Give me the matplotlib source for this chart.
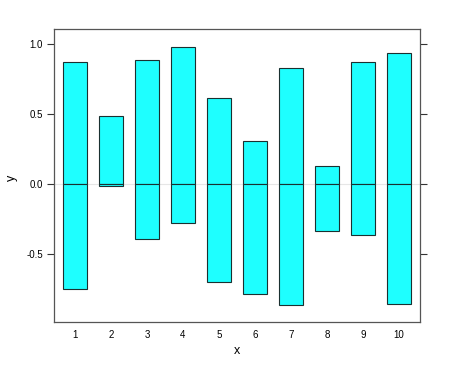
import matplotlib
matplotlib.use("Agg")
import matplotlib.pyplot as plt
import numpy as np

plt.rcParams['font.family'] = ['Liberation Sans', 'DejaVu Sans']

categories = ["1", "2", "3", "4", "5", "6", "7", "8", "9", "10"]
upper = [0.871, 0.486, 0.886, 0.976, 0.614, 0.307, 0.826, 0.126, 0.871, 0.936]
lower = [-0.750, -0.014, -0.393, -0.276, -0.700, -0.786, -0.864, -0.338, -0.364, -0.860]
yticks = [-0.5, 0.0, 0.5, 1.0]
ytick_labels = ["-0.5", "0.0", "0.5", "1.0"]

fig = plt.figure(figsize=(4.5, 3.68), dpi=100)
ax = fig.add_axes([54/450, 1-322/368, (420-54)/450, (322-29)/368])

x = np.arange(1, len(categories)+1)
ax.axhline(0, color='#e6e6e6', lw=0.8, zorder=0)
ax.bar(x, upper, width=2/3, bottom=0, color='#1EFFFF', edgecolor='#1a3030', linewidth=0.8, zorder=2)
ax.bar(x, lower, width=2/3, bottom=0, color='#1EFFFF', edgecolor='#1a3030', linewidth=0.8, zorder=2)

ax.set_xlim(0.42, 10.58)
ax.set_ylim(-0.986, 1.107)
ax.set_xticks(x)
ax.set_xticklabels(categories)
ax.set_yticks(yticks)
ax.set_yticklabels(ytick_labels)
ax.tick_params(axis='x', length=0, labelsize=7, pad=6, colors='#000000')
ax.tick_params(axis='y', length=5, labelsize=7, width=0.8, color='#333333',
               right=True, labelright=False, pad=3)
for s in ax.spines.values():
    s.set_color('#555555')
    s.set_linewidth(0.9)

fig.text(237/450, 1-351/368, "x", ha='center', va='center', fontsize=9)
fig.text(12/450, 1-178/368, "y", ha='center', va='center', fontsize=9, rotation=90)

fig.savefig("out.png", dpi=100)
